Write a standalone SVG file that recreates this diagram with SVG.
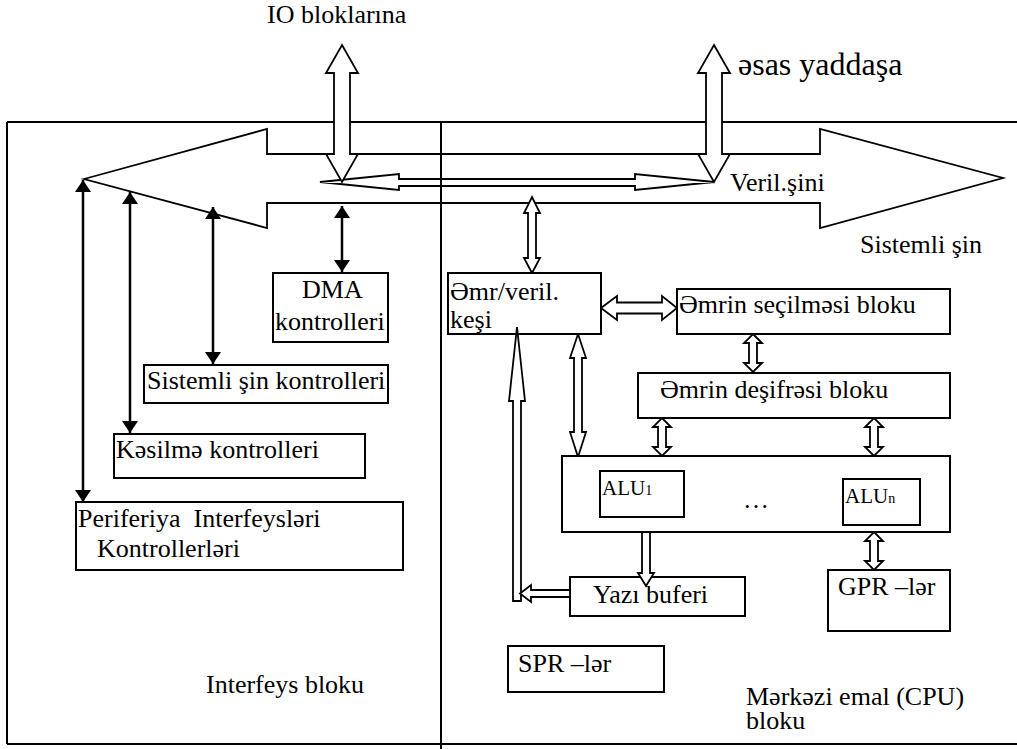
<svg xmlns="http://www.w3.org/2000/svg" width="1017" height="749" viewBox="0 0 1017 749">
  <defs>
    <marker id="tri" viewBox="0 0 12 16" markerWidth="12" markerHeight="16" refX="12" refY="8" orient="auto-start-reverse" markerUnits="userSpaceOnUse">
      <path d="M0,0 L12,8 L0,16 z" fill="#000"/>
    </marker>
  </defs>
  <style>
    text { font-family: "Liberation Serif", "DejaVu Serif", serif; font-size: 26px; fill: #000; white-space: pre; }
    .frame { fill: none; stroke: #000; stroke-width: 2; }
    .box { fill: #fff; stroke: #000; stroke-width: 2; }
    .hollow { fill: #fff; stroke: #000; stroke-width: 1.8; stroke-linejoin: miter; }
    .solid { fill: none; stroke: #000; stroke-width: 2.5; marker-start: url(#tri); marker-end: url(#tri); }
    .big { font-size: 32px; }
    .alu { font-size: 21px; }
    .sub { font-size: 14px; }
  </style>

  <!-- outer frame -->
  <g id="frame">
    <path class="frame" d="M7,122 H1017 M7,122 V744 M7,744 H1017"/>
  </g>

  <!-- system bus and data bus -->
  <g id="system-bus">
    <polygon class="hollow" points="84,179 267,129 267,154 820,154 820,129 1003,178 820,228 820,203 267,203 267,228"/>
  </g>
  <g id="data-bus">
    <polygon class="hollow" points="320,182 399,174 399,179 635,179 635,174 714,182 635,190 635,186 399,186 399,190"/>
  </g>

  <g id="connectors">
    <!-- to IO blocks / main memory -->
    <polygon class="hollow" points="342,45 358,73 350,73 350,154 358,154 342,182 326,154 334,154 334,73 326,73"/>
    <polygon class="hollow" points="714,45 730,73 722,73 722,154 730,154 714,182 698,154 706,154 706,73 698,73"/>
    <!-- interface block links -->
    <line class="solid" x1="83" y1="180" x2="83" y2="502"/>
    <line class="solid" x1="130" y1="192" x2="130" y2="433"/>
    <line class="solid" x1="213" y1="207" x2="213" y2="364"/>
    <line class="solid" x1="342" y1="206" x2="342" y2="272"/>
    <!-- CPU internal links -->
    <polygon class="hollow" points="532,197 540,213 536,213 536,258 540,258 532,273 524,258 528,258 528,213 524,213"/>
    <polygon class="hollow" points="601,308 617,296 617,302.5 662,302.5 662,296 677,308 662,320 662,313.5 617,313.5 617,320"/>
    <polygon class="hollow" points="753,334 762,343 757,343 757,363 762,363 753,372 744,363 749,363 749,343 744,343"/>
    <polygon class="hollow" points="662,418 671,427 666,427 666,447 671,447 662,456 653,447 658,447 658,427 653,427"/>
    <polygon class="hollow" points="874,418 883,427 878,427 878,447 883,447 874,456 865,447 870,447 870,427 865,427"/>
    <polygon class="hollow" points="578,334 586,358 582,358 582,432 586,432 578,457 570,432 574,432 574,358 570,358"/>
    <polygon class="hollow" points="874,532 883,541 878,541 878,561 883,561 874,570 865,561 870,561 870,541 865,541"/>
  </g>

  <!-- block divider -->
  <g id="divider">
    <path class="frame" d="M441,122 V749"/>
  </g>

  <!-- interface block -->
  <g id="dma">
    <rect class="box" x="273" y="273" width="115" height="69"/>
    <text x="302" y="298">DMA</text>
    <text x="275" y="330">kontrolleri</text>
  </g>
  <g id="bus-controller">
    <rect class="box" x="144" y="365" width="244" height="38"/>
    <text x="147" y="389">Sistemli şin kontrolleri</text>
  </g>
  <g id="interrupt-controller">
    <rect class="box" x="114" y="434" width="251" height="44"/>
    <text x="116" y="458">Kəsilmə kontrolleri</text>
  </g>
  <g id="peripheral-controllers">
    <rect class="box" x="76" y="502" width="327" height="68"/>
    <text x="78" y="527">Periferiya  Interfeysləri</text>
    <text x="97" y="557">Kontrollerləri</text>
  </g>

  <!-- CPU block -->
  <g id="cache">
    <rect class="box" x="448" y="273" width="153" height="61"/>
    <text x="450" y="300">Əmr/veril.</text>
    <text x="450" y="328">keşi</text>
  </g>
  <g id="fetch">
    <rect class="box" x="677" y="289" width="273" height="45"/>
    <text x="679" y="313">Əmrin seçilməsi bloku</text>
  </g>
  <g id="decode">
    <rect class="box" x="638" y="373" width="312" height="45"/>
    <text x="660" y="398">Əmrin deşifrəsi bloku</text>
  </g>
  <g id="alu-group">
    <rect class="box" x="562" y="456" width="388" height="76"/>
    <rect class="box" x="600" y="471" width="84" height="46"/>
    <text class="alu" x="602" y="495">ALU<tspan class="sub">1</tspan></text>
    <text x="743" y="508">…</text>
    <rect class="box" x="843" y="479" width="77" height="46"/>
    <text class="alu" x="845" y="503">ALU<tspan class="sub">n</tspan></text>
  </g>
  <g id="write-buffer">
    <rect class="box" x="570" y="577" width="175" height="39"/>
    <text x="593" y="603">Yazı buferi</text>
  </g>
  <g id="gpr">
    <rect class="box" x="828" y="570" width="122" height="61"/>
    <text x="838" y="595">GPR –lər</text>
  </g>
  <g id="spr">
    <rect class="box" x="508" y="646" width="156" height="46"/>
    <text x="518" y="672">SPR –lər</text>
  </g>

  <!-- links drawn over the boxes -->
  <g id="connectors-front">
    <polygon class="hollow" points="642,532 650,532 650,573 654,573 646,586 638,573 642,573"/>
    <polygon class="hollow" points="517,327 525,401 521,401 521,601 513,601 513,401 509,401"/>
    <polygon class="hollow" points="570,590 531,590 531,585 520,593.5 531,602 531,597 570,597"/>
  </g>

  <!-- labels -->
  <g id="labels">
    <text x="267" y="23">IO bloklarına</text>
    <text class="big" x="738" y="75">əsas yaddaşa</text>
    <text x="730" y="191">Veril.şini</text>
    <text x="860" y="253">Sistemli şin</text>
    <text x="206" y="693">Interfeys bloku</text>
    <text x="746" y="705">Mərkəzi emal (CPU)</text>
    <text x="746" y="729">bloku</text>
  </g>
</svg>
